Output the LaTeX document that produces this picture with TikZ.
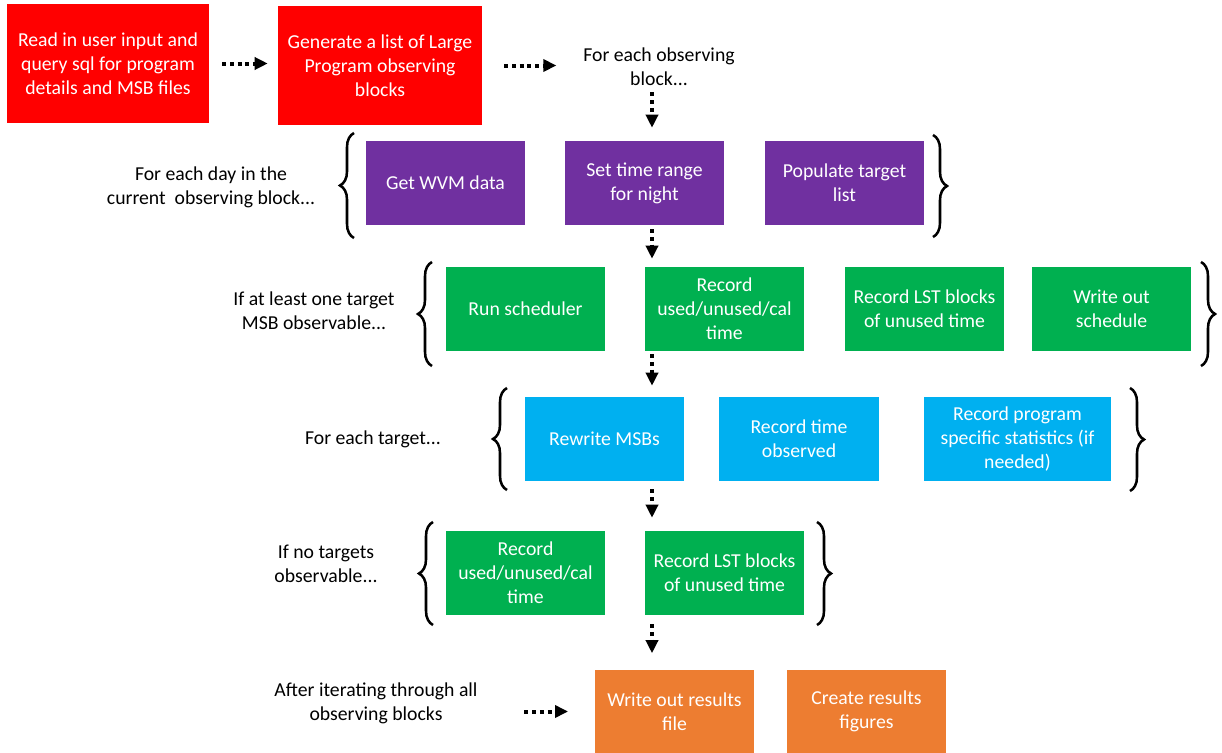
\documentclass[tikz,border=0pt]{standalone}
\usepackage{fontspec}
\setmainfont{Carlito}
\usetikzlibrary{arrows.meta,decorations.pathreplacing}
\definecolor{cred}{HTML}{FF0000}
\definecolor{cpurple}{HTML}{7030A0}
\definecolor{cgreen}{HTML}{00B050}
\definecolor{cblue}{HTML}{00B0F0}
\definecolor{corange}{HTML}{ED7D31}
\begin{document}
\begin{tikzpicture}[x=0.75pt,y=-0.75pt,
  box/.style={draw=none, text=white, align=center, inner sep=0pt,
    font=\fontsize{14.8}{18}\selectfont, minimum width=119.25pt, minimum height=63pt},
  lbl/.style={text=black, align=center, inner sep=0pt, font=\fontsize{14.8}{18}\selectfont},
  arr/.style={line width=3pt, dash pattern=on 3pt off 2.8pt,
    -{Triangle[length=9.75pt,width=9pt]}},
  brc/.style={decorate, decoration={brace, amplitude=10.5pt}, line width=1.9pt},
]
\useasboundingbox (0,0) rectangle (1222,753);

% row 1
\node[box, fill=cred, minimum width=151.5pt, minimum height=89.25pt] (r1) at (108,63.5)
  {Read in user input and\\query sql for program\\details and MSB files};
\node[box, fill=cred, minimum width=153pt, minimum height=89.25pt] (r2) at (380,65.5)
  {Generate a list of Large\\Program observing\\blocks};
\node[lbl] (foreach) at (659,66.5) {For each observing\\block...};

% purple row
\node[lbl] (day) at (211,187) {For each day in the\\current\ \ observing block...};
\node[box, fill=cpurple] (wvm) at (445.5,183) {Get WVM data};
\node[box, fill=cpurple] (setTime) at (644.5,183) {Set time range\\for night};
\node[box, fill=cpurple] (pop) at (844.5,183) {Populate target\\list};

% green row 1
\node[lbl] (atleast) at (314,311) {If at least one target\\MSB observable...};
\node[box, fill=cgreen] (run) at (525.5,309) {Run scheduler};
\node[box, fill=cgreen] (used1) at (724.5,309) {Record\\used/unused/cal\\time};
\node[box, fill=cgreen] (lst1) at (924.5,309) {Record LST blocks\\of unused time};
\node[box, fill=cgreen] (sched) at (1111.5,309) {Write out\\schedule};

% blue row
\node[lbl] (target) at (373,439) {For each target...};
\node[box, fill=cblue] (rewrite) at (604.5,439) {Rewrite MSBs};
\node[box, fill=cblue, minimum width=120pt] (rectime) at (799,439) {Record time\\observed};
\node[box, fill=cblue, minimum width=140.25pt] (stats) at (1017.5,439) {Record program\\specific statistics (if\\needed)};

% green row 2
\node[lbl] (notargets) at (326,564) {If no targets\\observable...};
\node[box, fill=cgreen] (used2) at (525.5,573) {Record\\used/unused/cal\\time};
\node[box, fill=cgreen] (lst2) at (724.5,573) {Record LST blocks\\of unused time};

% orange row
\node[lbl] (after) at (376,703.5) {After iterating through all\\observing blocks};
\node[box, fill=corange] (wr) at (674.5,711.5) {Write out results\\file};
\node[box, fill=corange] (fig) at (866.5,711.5) {Create results\\figures};

% connectors
\coordinate (ax) at (652,0);
\draw[arr, shorten <=9.75pt, shorten >=7.5pt] (r1.east) -- (r1.east -| r2.west);
\draw[arr, shorten <=16.5pt, shorten >=20pt] (r2.east) -- (r2.east -| foreach.west);
\draw[arr, shorten <=5pt, shorten >=9.75pt] (foreach.south -| ax) -- (setTime.north -| ax);
\draw[arr, shorten <=3pt, shorten >=6pt] (setTime.south -| ax) -- (used1.north -| ax);
\draw[arr, shorten <=2.25pt, shorten >=8.25pt] (used1.south -| ax) -- (rewrite.north -| ax);
\draw[arr, shorten <=6pt, shorten >=9.75pt] (rewrite.south -| ax) -- (lst2.north -| ax);
\draw[arr, shorten <=6.75pt, shorten >=12pt] (lst2.south -| ax) -- (wr.north -| ax);
\draw[arr, shorten <=35pt, shorten >=20pt] (after.east |- wr.west) -- (wr.west);

% braces
\draw[brc] (354,238) -- (354,133);
\draw[brc] (933,135) -- (933,237);
\draw[brc] (432,366) -- (432,262);
\draw[brc] (1201,262) -- (1201,366);
\draw[brc] (507,490) -- (507,388);
\draw[brc] (1130,388) -- (1130,491);
\draw[brc] (433,625) -- (433,522);
\draw[brc] (817,522) -- (817,625);
\end{tikzpicture}
\end{document}
